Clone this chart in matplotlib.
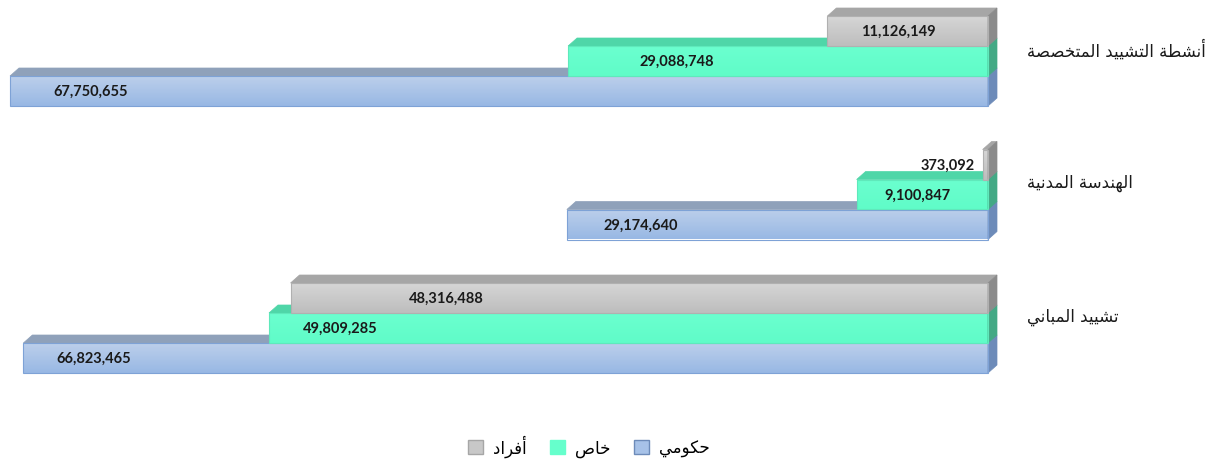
import matplotlib
matplotlib.use("Agg")
import matplotlib.pyplot as plt
import numpy as np
from matplotlib.patches import Polygon, Patch
import matplotlib.transforms as mtransforms

# ---------------- data ----------------
categories = ['أنشطة التشييد المتخصصة', 'الهندسة المدنية', 'تشييد المباني']
series_names = ['حكومي', 'خاص', 'أفراد']
gov = [67750655, 29174640, 66823465]
private = [29088748, 9100847, 49809285]
individuals = [11126149, 373092, 48316488]

# ---------------- Arabic shaping (matplotlib has no complex text layout) ----------------
FORMS = {
    '\u0627': ('\uFE8D', '\uFE8E', None, None),
    '\u0623': ('\uFE83', '\uFE84', None, None),
    '\u0628': ('\uFE8F', '\uFE90', '\uFE91', '\uFE92'),
    '\u0629': ('\uFE93', '\uFE94', None, None),
    '\u062A': ('\uFE95', '\uFE96', '\uFE97', '\uFE98'),
    '\u062D': ('\uFEA1', '\uFEA2', '\uFEA3', '\uFEA4'),
    '\u062E': ('\uFEA5', '\uFEA6', '\uFEA7', '\uFEA8'),
    '\u062F': ('\uFEA9', '\uFEAA', None, None),
    '\u0631': ('\uFEAD', '\uFEAE', None, None),
    '\u0633': ('\uFEB1', '\uFEB2', '\uFEB3', '\uFEB4'),
    '\u0634': ('\uFEB5', '\uFEB6', '\uFEB7', '\uFEB8'),
    '\u0635': ('\uFEB9', '\uFEBA', '\uFEBB', '\uFEBC'),
    '\u0637': ('\uFEC1', '\uFEC2', '\uFEC3', '\uFEC4'),
    '\u0641': ('\uFED1', '\uFED2', '\uFED3', '\uFED4'),
    '\u0643': ('\uFED9', '\uFEDA', '\uFEDB', '\uFEDC'),
    '\u0644': ('\uFEDD', '\uFEDE', '\uFEDF', '\uFEE0'),
    '\u0645': ('\uFEE1', '\uFEE2', '\uFEE3', '\uFEE4'),
    '\u0646': ('\uFEE5', '\uFEE6', '\uFEE7', '\uFEE8'),
    '\u0647': ('\uFEE9', '\uFEEA', '\uFEEB', '\uFEEC'),
    '\u0648': ('\uFEED', '\uFEEE', None, None),
    '\u064A': ('\uFEF1', '\uFEF2', '\uFEF3', '\uFEF4'),
}


def shape_ar(s):
    out = []
    n = len(s)
    for i, ch in enumerate(s):
        if ch not in FORMS:
            out.append(ch)
            continue
        prev = s[i - 1] if i > 0 else None
        nxt = s[i + 1] if i < n - 1 else None
        pc = prev in FORMS and FORMS[prev][2] is not None
        nc = FORMS[ch][2] is not None and nxt in FORMS
        f = FORMS[ch]
        if pc and nc:
            out.append(f[3])
        elif pc:
            out.append(f[1])
        elif nc:
            out.append(f[2])
        else:
            out.append(f[0])
    return ''.join(out)[::-1]


# ---------------- layout ----------------
W, H = 1212, 460
fig = plt.figure(figsize=(W / 100, H / 100), dpi=100)
ax = fig.add_axes([0, 0, 1, 1])
ax.axis('off')

PX_PER_UNIT = 978.0 / 67.75e6       # horizontal pixels per value unit
X0_PX = 988                          # pixel column of value 0
PX_PER_CAT = 133.5
CAT0_PX = 62
XLIM = (X0_PX / PX_PER_UNIT, -(W - X0_PX) / PX_PER_UNIT)
YLIM = ((H - CAT0_PX) / PX_PER_CAT, -CAT0_PX / PX_PER_CAT)
ax.set_xlim(*XLIM)
ax.set_ylim(*YLIM)

bar_h = 30.0 / PX_PER_CAT
DEPTH_X, DEPTH_Y = 9, 8   # pixels of 3D depth

styles = {
    'gov':   dict(grad=('#bccfeb', '#98b8e4'), top='#8fa1ba', side='#6d8bb9', edge='#7ea2d6'),
    'priv':  dict(grad=('#6bffcf', '#60fcc8'), top='#4fd6a8', side='#43a985', edge='#5fe9bb'),
    'indiv': dict(grad=('#d6d6d6', '#bdbdbd'), top='#a6a6a6', side='#8b8b8b', edge='#b0b0b0'),
}

# label placement: pixels from the bar's far end (inward), layout only
label_shift = {
    'gov': [81, 74, 70],
    'priv': [109, 61, 71],
    'indiv': [71, -35, 156],
}

ypos = np.arange(len(categories))
series = [('gov', gov, +bar_h, 2), ('priv', private, 0.0, 3), ('indiv', individuals, -bar_h, 4)]


def shift(xd, yd, dx, dy):
    p = ax.transData.transform((xd, yd)) + np.array([dx, dy])
    return ax.transData.inverted().transform(p)


for key, vals, off, z in series:
    st = styles[key]
    bars = ax.barh(ypos + off, vals, height=bar_h, left=0, color='none',
                   edgecolor=st['edge'], linewidth=0.8, zorder=z + 0.3)
    grad = np.linspace(0, 1, 64).reshape(-1, 1)
    cmap = matplotlib.colors.LinearSegmentedColormap.from_list('g' + key, list(st['grad']))
    for rect, v in zip(bars.patches, vals):
        x = rect.get_x(); w = rect.get_width(); y = rect.get_y(); h = rect.get_height()
        x1 = x + w
        ytop, ybot = min(y, y + h), max(y, y + h)
        xl, xr = max(x, x1), min(x, x1)   # xl: far (left on screen), xr: zero
        im = ax.imshow(grad, cmap=cmap, extent=(xl, xr, ybot, ytop), origin='upper',
                       aspect='auto', zorder=z, interpolation='bilinear')
        im.set_clip_path(rect)
        # top face
        a = (xl, ytop); b = (xr, ytop)
        pts = [a, b, tuple(shift(*b, DEPTH_X, DEPTH_Y)), tuple(shift(*a, DEPTH_X, DEPTH_Y))]
        ax.add_patch(Polygon(pts, closed=True, facecolor=st['top'], edgecolor=st['top'],
                             linewidth=0.5, zorder=z + 0.1))
        # side face
        c = (xr, ybot)
        pts = [b, c, tuple(shift(*c, DEPTH_X, DEPTH_Y)), tuple(shift(*b, DEPTH_X, DEPTH_Y))]
        ax.add_patch(Polygon(pts, closed=True, facecolor=st['side'], edgecolor=st['side'],
                             linewidth=0.5, zorder=z + 0.2))
    ax.set_xlim(*XLIM)
    ax.set_ylim(*YLIM)
    for i, (rect, v) in enumerate(zip(bars.patches, vals)):
        y = rect.get_y() + rect.get_height() / 2
        sh = label_shift[key][i]
        tr = mtransforms.offset_copy(ax.transData, fig=fig, x=sh * 72 / 100, y=0, units='points')
        ax.text(v, y, f'{v:,}', transform=tr, ha='center', va='center',
                fontsize=10.5, fontweight='bold', family=['Lato', 'DejaVu Sans'],
                color='#1a1a1a', zorder=10)

# category labels
lab_tr = mtransforms.blended_transform_factory(ax.transAxes, ax.transData)
lab_tr = lab_tr + mtransforms.ScaledTranslation(0, 12 / 100, fig.dpi_scale_trans)
for i, c in enumerate(categories):
    ax.text(1027 / W, ypos[i], shape_ar(c), transform=lab_tr, ha='left', va='center',
            fontsize=12, family=['DejaVu Sans'], color='#1a1a1a')

ax.set_xlim(*XLIM)
ax.set_ylim(*YLIM)

# legend
handles = [
    Patch(facecolor='#c8c8c8', edgecolor='#a6a6a6', label=shape_ar(series_names[2])),
    Patch(facecolor='#66ffcc', edgecolor='#66ffcc', label=shape_ar(series_names[1])),
    Patch(facecolor='#a7c2e8', edgecolor='#6d8bb9', label=shape_ar(series_names[0])),
]
fig.legend(handles=handles, loc='center', bbox_to_anchor=(589 / W, 1 - 447 / H), ncol=3,
           frameon=False, handlelength=0.9, handleheight=0.9, handletextpad=0.6,
           columnspacing=1.4, prop=dict(family='DejaVu Sans', size=12))

fig.savefig('out.png', dpi=100, facecolor='white')
